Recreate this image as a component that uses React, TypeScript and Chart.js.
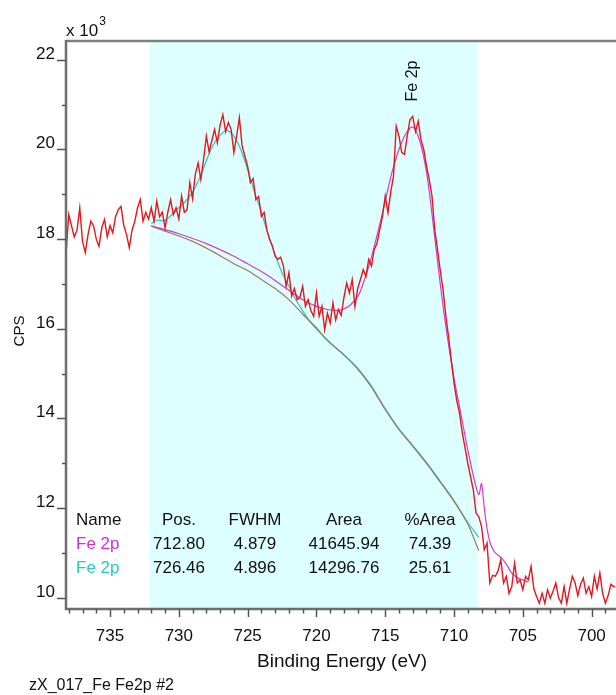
import React, { useEffect, useRef } from 'react';
import { Chart, registerables } from 'chart.js';

Chart.register(...registerables);

const FONT_FAMILY = "'Liberation Sans', Arial, sans-serif";
const font = (size: number) => `${size}px ${FONT_FAMILY}`;

// Raw spectrum (CPS x 10^3), sampled every 0.2 eV from 738.2 eV down to 698.2 eV
const START_ENERGY = 738.2;
const ENERGY_STEP = 0.2;
const rawCounts = [
  17.66, 18.55, 18.30, 18.05, 18.20, 18.70, 17.95, 17.70, 18.10, 18.40,
  18.30, 18.00, 17.84, 18.25, 18.44, 18.05, 18.30, 18.14, 18.50, 18.66,
  18.73, 18.30, 18.10, 17.81, 18.20, 18.40, 18.70, 18.88, 18.40, 18.60,
  18.45, 18.70, 18.40, 18.85, 18.50, 18.60, 18.25, 18.60, 18.88, 18.55,
  18.70, 18.45, 18.96, 18.60, 18.66, 19.26, 18.90, 19.45, 19.70, 19.33,
  19.78, 20.30, 19.95, 20.20, 20.45, 20.15, 20.55, 20.78, 20.40, 20.60,
  20.45, 19.93, 20.30, 20.71, 20.08, 19.85, 19.63, 19.26, 19.35, 18.88,
  18.95, 18.51, 18.60, 18.20, 17.99, 17.85, 17.62, 17.55, 17.60, 17.40,
  16.95, 17.25, 16.73, 16.90, 16.65, 16.70, 16.95, 16.50, 16.65, 16.40,
  16.28, 16.80, 16.28, 16.50, 15.98, 16.35, 16.13, 16.58, 16.20, 16.43,
  16.30, 16.70, 17.02, 16.80, 17.10, 16.50, 16.90, 17.10, 17.32, 17.17,
  17.55, 17.40, 17.77, 17.90, 18.21, 18.50, 18.96, 18.59, 19.05, 19.40,
  20.52, 20.30, 19.93, 19.89, 20.30, 20.67, 20.74, 20.40, 20.63, 20.22,
  20.00, 19.63, 19.33, 18.96, 18.21, 17.77, 17.30, 16.88, 16.30, 15.83,
  15.30, 14.79, 14.40, 14.12, 13.68, 13.35, 13.00, 12.70, 12.41, 11.89,
  11.81, 11.59, 11.07, 11.22, 10.33, 10.50, 10.48, 10.60, 10.85, 10.33,
  10.48, 10.10, 10.25, 10.77, 10.33, 10.40, 10.18, 10.48, 10.40, 10.70,
  10.20, 10.03, 9.88, 10.10, 9.88, 10.18, 9.99, 10.15, 10.33, 10.00,
  9.88, 10.25, 9.88, 10.20, 10.48, 10.33, 10.05, 10.30, 10.44, 10.10,
  10.25, 10.03, 10.48, 10.20, 10.55, 10.10, 9.88, 10.05, 10.30, 10.25,
  10.25,
];
const rawEnergies = rawCounts.map((_, i) => +(START_ENERGY - i * ENERGY_STEP).toFixed(1));

// Shirley background
const bgEnergies = [732.0, 731.0, 730.0, 729.0, 728.0, 727.0, 726.0, 725.0, 724.0, 723.0, 722.0, 721.0, 720.0, 719.0, 718.0, 717.0, 716.0, 715.0, 714.0, 713.0, 712.0, 711.0, 710.0, 709.0, 708.2];
const bgCounts = [18.29, 18.18, 18.07, 17.95, 17.80, 17.63, 17.45, 17.30, 17.10, 16.90, 16.65, 16.33, 16.00, 15.68, 15.42, 15.10, 14.70, 14.20, 13.75, 13.38, 13.00, 12.58, 12.15, 11.65, 11.05];

// Component Fe 2p (712.80) + background (magenta)
const magEnergies = [732.0, 730.0, 728.0, 726.0, 725.0, 724.0, 723.0, 722.0, 721.0, 720.0, 719.0, 718.0, 717.0, 716.5, 716.0, 715.5, 715.0, 714.5, 714.0, 713.5, 713.0, 712.5, 712.0, 711.5, 711.0, 710.5, 710.0, 709.5, 709.0, 708.5, 708.2, 708.0, 707.8, 707.6, 707.4, 707.2, 707.0, 706.6, 706.2, 705.8, 705.4, 705.0, 704.6];
const magCounts = [18.30, 18.12, 17.90, 17.62, 17.45, 17.28, 17.08, 16.86, 16.65, 16.50, 16.42, 16.44, 16.72, 17.10, 17.60, 18.20, 18.85, 19.50, 20.00, 20.35, 20.50, 20.20, 19.50, 18.30, 17.00, 15.85, 14.90, 14.10, 13.30, 12.60, 12.30, 12.55, 12.00, 11.55, 11.25, 11.10, 11.00, 10.90, 10.75, 10.55, 10.45, 10.40, 10.35];

// Component Fe 2p (726.46) + background (cyan)
const cyanEnergies = [732.0, 731.6, 731.0, 730.5, 730.0, 729.5, 729.0, 728.5, 728.0, 727.5, 727.0, 726.5, 726.0, 725.5, 725.0, 724.5, 724.0, 723.5, 723.0, 722.5, 722.0, 721.5, 721.0, 720.5, 720.0, 719.5, 719.0, 718.0, 717.0, 716.0, 715.0, 714.0, 713.0, 712.0, 711.0, 710.0, 709.0, 708.2];
const cyanCounts = [18.35, 18.42, 18.42, 18.55, 18.70, 18.85, 19.05, 19.35, 19.75, 20.10, 20.32, 20.42, 20.30, 20.00, 19.55, 19.05, 18.60, 18.10, 17.65, 17.25, 16.95, 16.65, 16.40, 16.18, 16.03, 15.84, 15.69, 15.42, 15.12, 14.72, 14.22, 13.77, 13.40, 13.02, 12.60, 12.17, 11.68, 11.35];

const xMajorTicks = [735, 730, 725, 720, 715, 710, 705, 700];
const yMajorTicks = [10, 12, 14, 16, 18, 20, 22];
const yMinorTicks = [11, 13, 15, 17, 19, 21];
const regionStart = 732.1;
const regionEnd = 708.25;
const peakLabelEnergy = 713.0;

const tableHeader = ['Name', 'Pos.', 'FWHM', 'Area', '%Area'];
const compNames = ['Fe 2p', 'Fe 2p'];
const compPos = ['712.80', '726.46'];
const compFwhm = ['4.879', '4.896'];
const compArea = ['41645.94', '14296.76'];
const compPct = ['74.39', '25.61'];
const compColors = ['#D22ED2', '#27C9C6'];

const toPoints = (xs: number[], ys: number[]) => xs.map((x, i) => ({ x, y: ys[i] }));

const TEXT = '#111';

const decorPlugin = {
  id: 'decor',
  beforeDatasetsDraw(chart: any) {
    const { ctx, chartArea: a } = chart;
    const xs = chart.scales.x;
    const x1 = xs.getPixelForValue(regionStart);
    const x2 = xs.getPixelForValue(regionEnd);
    ctx.save();
    ctx.fillStyle = '#DEFFFF';
    ctx.fillRect(x1, a.top, x2 - x1, a.bottom - a.top);
    ctx.restore();
  },
  afterDraw(chart: any) {
    const { ctx, chartArea: a } = chart;
    const xs = chart.scales.x;
    const ys = chart.scales.y;
    ctx.save();

    // frame
    ctx.strokeStyle = '#808080';
    ctx.lineWidth = 2.5;
    ctx.beginPath();
    ctx.moveTo(a.left, a.top);
    ctx.lineTo(a.right + 1, a.top);
    ctx.stroke();
    ctx.strokeStyle = '#6e6e6e';
    ctx.beginPath();
    ctx.moveTo(a.left, a.top - 1);
    ctx.lineTo(a.left, a.bottom);
    ctx.lineTo(a.right + 1, a.bottom);
    ctx.stroke();

    // x ticks
    ctx.strokeStyle = '#555';
    ctx.lineWidth = 1.5;
    for (let e = 738; e >= 699; e--) {
      const px = Math.round(xs.getPixelForValue(e)) + 0.5;
      const major = xMajorTicks.includes(e);
      ctx.beginPath();
      ctx.moveTo(px, a.bottom);
      ctx.lineTo(px, a.bottom + (major ? 8 : 4.5));
      ctx.stroke();
    }
    // y ticks
    for (const v of yMajorTicks) {
      const py = Math.round(ys.getPixelForValue(v)) + 0.5;
      ctx.beginPath();
      ctx.moveTo(a.left, py);
      ctx.lineTo(a.left - 9, py);
      ctx.stroke();
    }
    for (const v of yMinorTicks) {
      const py = Math.round(ys.getPixelForValue(v)) + 0.5;
      ctx.beginPath();
      ctx.moveTo(a.left, py);
      ctx.lineTo(a.left - 4, py);
      ctx.stroke();
    }

    ctx.fillStyle = TEXT;
    // x tick labels
    ctx.font = font(17);
    ctx.textAlign = 'center';
    ctx.textBaseline = 'alphabetic';
    for (const v of xMajorTicks) {
      ctx.fillText(String(v), xs.getPixelForValue(v), 641);
    }
    // y tick labels
    ctx.textAlign = 'right';
    for (const v of yMajorTicks) {
      ctx.fillText(String(v), 55, ys.getPixelForValue(v) - 1);
    }

    // multiplier
    ctx.textAlign = 'left';
    ctx.font = font(17);
    ctx.fillText('x 10', 66, 36);
    const w = ctx.measureText('x 10').width;
    ctx.font = font(12);
    ctx.fillText('3', 66 + w + 1, 25);

    // axis titles
    ctx.font = font(19);
    ctx.textAlign = 'center';
    ctx.fillText('Binding Energy (eV)', 342, 667);
    ctx.save();
    ctx.translate(20, 331);
    ctx.rotate(-Math.PI / 2);
    ctx.font = font(15);
    ctx.textBaseline = 'middle';
    ctx.fillText('CPS', 0, 0);
    ctx.restore();

    // file name
    ctx.font = font(16);
    ctx.textAlign = 'left';
    ctx.fillText('zX_017_Fe Fe2p #2', 29, 690);

    // peak label
    ctx.save();
    ctx.translate(xs.getPixelForValue(peakLabelEnergy), 81);
    ctx.rotate(-Math.PI / 2);
    ctx.font = font(16);
    ctx.textAlign = 'center';
    ctx.textBaseline = 'middle';
    ctx.fillText('Fe 2p', 0, 0);
    ctx.restore();

    // table
    const colX = [76, 179, 255, 344, 430];
    const rowY = [525, 549, 573];
    ctx.font = font(17);
    ctx.textBaseline = 'alphabetic';
    tableHeader.forEach((h, i) => {
      ctx.textAlign = i === 0 ? 'left' : 'center';
      ctx.fillStyle = TEXT;
      ctx.fillText(h, colX[i], rowY[0]);
    });
    for (let r = 0; r < compNames.length; r++) {
      const cells = [compNames[r], compPos[r], compFwhm[r], compArea[r], compPct[r]];
      cells.forEach((c, i) => {
        ctx.textAlign = i === 0 ? 'left' : 'center';
        ctx.fillStyle = i === 0 ? compColors[r] : TEXT;
        ctx.fillText(c, colX[i], rowY[r + 1]);
      });
    }
    ctx.restore();
  },
};

export default function App() {
  const ref = useRef<HTMLCanvasElement>(null);
  useEffect(() => {
    const chart = new Chart(ref.current as HTMLCanvasElement, {
      type: 'line',
      data: {
        datasets: [
          {
            label: 'Raw',
            data: toPoints(rawEnergies, rawCounts),
            borderColor: '#E5161D',
            borderWidth: 1.4,
            pointRadius: 0,
            tension: 0,
          },
          {
            label: 'Fe 2p 712.80',
            data: toPoints(magEnergies, magCounts),
            borderColor: '#D03CD0',
            borderWidth: 1.2,
            pointRadius: 0,
            tension: 0.3,
          },
          {
            label: 'Background',
            data: toPoints(bgEnergies, bgCounts),
            borderColor: '#9E7A58',
            borderWidth: 1.2,
            pointRadius: 0,
            tension: 0.2,
          },
          {
            label: 'Fe 2p 726.46',
            data: toPoints(cyanEnergies, cyanCounts),
            borderColor: '#2EC4BC',
            borderWidth: 1.2,
            pointRadius: 0,
            tension: 0.3,
          },
        ],
      },
      options: {
        responsive: false,
        maintainAspectRatio: false,
        animation: false,
        events: [],
        layout: { padding: { top: 41, right: 1, left: 0, bottom: 0 } },
        plugins: { legend: { display: false }, tooltip: { enabled: false } },
        scales: {
          x: {
            type: 'linear',
            reverse: true,
            min: 698.3,
            max: 738.2,
            grid: { display: false },
            border: { display: false },
            ticks: { display: false },
            afterFit: (s: any) => { s.height = 86; },
          },
          y: {
            type: 'linear',
            min: 9.75,
            max: 22.42,
            grid: { display: false },
            border: { display: false },
            ticks: { display: false },
            afterFit: (s: any) => { s.width = 66; },
          },
        },
      },
      plugins: [decorPlugin],
    });
    return () => chart.destroy();
  }, []);
  return (
    <div style={{ position: 'fixed', left: 0, top: 0, width: 616, height: 695, background: '#fff' }}>
      <canvas ref={ref} width={616} height={695} style={{ display: 'block', width: 616, height: 695 }} />
    </div>
  );
}
